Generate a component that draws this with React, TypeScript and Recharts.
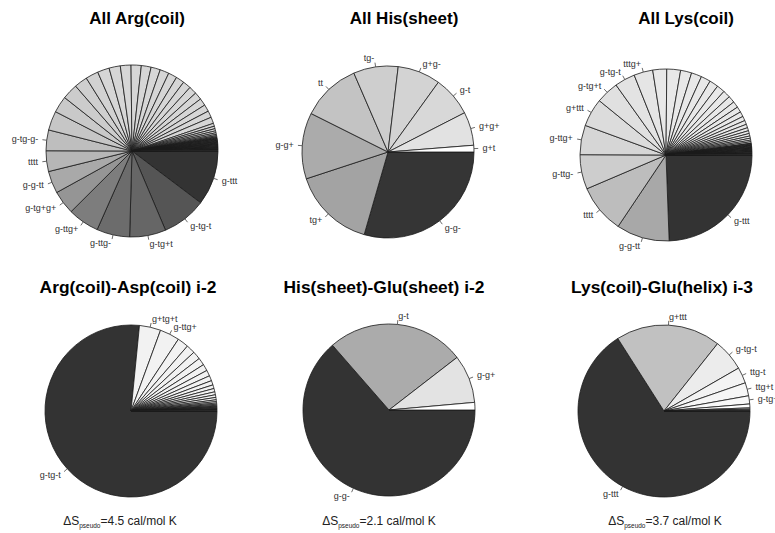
import { Cell, Pie, PieChart } from "recharts";

// slice sizes (degrees of arc, clockwise from 3 o'clock)
const argAllLabels = ["g-ttt", "g-tg-t", "g-tg+t", "g-ttg-", "g-ttg+", "g-tg+g+", "g-g-tt", "tttt", "g-tg-g-"];
const argAllValues = [
  37, 30, 24.5, 22.3, 21.2, 16, 15, 14, 14, 13, 11.2, 10.6, 8.9, 8.6, 8.0, 7.6, 7.2, 6.9, 6.6, 6.3,
  6.1, 5.9, 5.7, 5.5, 5.3, 5.1, 4.9, 4.7, 4.5, 4.3, 2.0, 1.7, 1.5, 1.3, 1.1, 0.9, 0.7, 0.5, 0.4, 0.3,
  0.3, 0.3, 0.3, 0.3, 0.28, 0.28, 0.27, 0.27, 0.26, 0.26, 0.25, 0.25, 0.25, 0.24, 0.24, 0.24, 0.23,
  0.23, 0.23, 0.22, 0.22, 0.22, 0.21, 0.21, 0.21, 0.2, 0.2, 0.2, 0.2, 0.19, 0.19, 0.19, 0.18, 0.18,
  0.18, 0.17,
];
const argAllColors = [
  "#333333", "#555555", "#666666", "#6c6c6c", "#7d7d7d", "#959595", "#a9a9a9", "#b6b6b6", "#bebebe",
  "#c6c6c6", "#c9c9c9", "#cccccc", "#cfcfcf", "#d2d2d2",
];

const hisAllLabels = ["g-g-", "tg+", "g-g+", "tt", "tg-", "g+g-", "g-t", "g+g+", "g+t"];
const hisAllValues = [106, 55.7, 44.7, 40, 30.2, 29, 27, 22.6, 4.5];
const hisAllColors = ["#353535", "#a3a3a3", "#ababab", "#c3c3c3", "#cecece", "#d3d3d3", "#d8d8d8", "#e2e2e2", "#ffffff"];

const lysAllLabels = ["g-ttt", "g-g-tt", "tttt", "g-ttg-", "g-ttg+", "g+ttt", "g-tg+t", "g-tg-t", "tttg+"];
const lysAllValues = [
  87.8, 35.9, 33, 23.3, 19.9, 19, 15.3, 13.8, 12.8, 9.4, 9.3, 7.5, 7, 6.5, 6, 5.5, 5, 4.6, 4.2, 3.8,
  3.4, 3.0, 2.7, 2.4, 2.1, 1.9, 1.7, 1.5, 1.3, 1.1, 1.0, 0.3, 0.3, 0.3, 0.29, 0.28, 0.27, 0.26, 0.26,
  0.25, 0.25, 0.24, 0.24, 0.24, 0.23, 0.23, 0.23, 0.22, 0.22, 0.22, 0.21, 0.21, 0.21, 0.2, 0.2, 0.2,
  0.2, 0.19, 0.19, 0.19, 0.18, 0.18, 0.18, 0.17, 0.17, 0.17,
];
const lysAllColors = ["#333333", "#a8a8a8", "#bdbdbd", "#cdcdcd", "#d6d6d6", "#dcdcdc", "#e0e0e0", "#e3e3e3", "#e5e5e5"];

const argAspLabels = ["g-tg-t", "g+tg+t", "g-ttg+"];
const argAspValues = [
  277, 14.5, 13.4, 7.6, 6.0, 5.5, 5.0, 4.5, 4.0, 3.5, 3.0, 2.5, 2.3, 2.0, 1.8, 1.6, 1.2, 1.0, 0.8, 0.7,
  0.6, 0.5, 0.3, 0.3, 0.3, 0.25, 0.25, 0.2, 0.2, 0.2, 0.15, 0.15, 0.15, 0.1, 0.1, 0.1,
];
const argAspColors = ["#333333"];

const hisGluLabels = ["g-g-", "g-t", "g-g+"];
const hisGluValues = [228.9, 93.4, 32.6, 5.1];
const hisGluColors = ["#333333", "#ababab", "#e3e3e3", "#ffffff"];

const lysGluLabels = ["g-ttt", "g+ttt", "g-tg-t", "ttg-t", "ttg+t", "g-tg+t"];
const lysGluValues = [237.5, 71, 21.6, 10.8, 8.9, 5.5, 2.6, 0.8, 0.5, 0.4, 0.2, 0.2];
const lysGluColors = ["#333333", "#c1c1c1", "#ececec", "#f3f3f3", "#f6f6f6", "#f9f9f9"];

const topTitles = ["All Arg(coil)", "All His(sheet)", "All Lys(coil)"];
const bottomTitles = ["Arg(coil)-Asp(coil) i-2", "His(sheet)-Glu(sheet) i-2", "Lys(coil)-Glu(helix) i-3"];
const entropyValues = ["4.5", "2.1", "3.7"];

const pies = [
  { labels: argAllLabels, values: argAllValues, colors: argAllColors, tail: "#d6d6d6", cx: 127, cy: 146 },
  { labels: hisAllLabels, values: hisAllValues, colors: hisAllColors, tail: "#ffffff", cx: 383, cy: 147 },
  { labels: lysAllLabels, values: lysAllValues, colors: lysAllColors, tail: "#e8e8e8", cx: 661, cy: 150 },
  { labels: argAspLabels, values: argAspValues, colors: argAspColors, tail: "#f2f2f2", cx: 126, cy: 406 },
  { labels: hisGluLabels, values: hisGluValues, colors: hisGluColors, tail: "#ffffff", cx: 384, cy: 405 },
  { labels: lysGluLabels, values: lysGluValues, colors: lysGluColors, tail: "#ffffff", cx: 659, cy: 406 },
];

const font = "'Liberation Sans', Arial, Helvetica, sans-serif";
const RAD = Math.PI / 180;

const makeLabel = (labels: string[]) => (props: any) => {
  const { cx, cy, midAngle, outerRadius, index } = props;
  const text = labels[index];
  if (!text) return null;
  const c = Math.cos(-midAngle * RAD);
  const s = Math.sin(-midAngle * RAD);
  return (
    <g>
      <line
        x1={cx + outerRadius * c}
        y1={cy + outerRadius * s}
        x2={cx + outerRadius * 1.05 * c}
        y2={cy + outerRadius * 1.05 * s}
        stroke="#444"
        strokeWidth={0.8}
      />
      <text
        x={cx + outerRadius * 1.1 * c}
        y={cy + outerRadius * 1.1 * s}
        textAnchor={c < 0 ? "end" : "start"}
        dominantBaseline="central"
        fontSize={9}
        fontFamily={font}
        fill="#333"
      >
        {text}
      </text>
    </g>
  );
};

export default function App() {
  return (
    <div style={{ position: "absolute", left: 0, top: 0, width: 775, height: 533, background: "#fff" }}>
      <PieChart width={775} height={533}>
        {pies.map((p, i) => (
          <Pie
            key={i}
            data={p.values.map((v, j) => ({ name: p.labels[j] ?? "", value: v }))}
            dataKey="value"
            cx={p.cx}
            cy={p.cy}
            innerRadius={0}
            outerRadius={86}
            startAngle={0}
            endAngle={-360}
            stroke="#1a1a1a"
            strokeWidth={0.8}
            labelLine={false}
            label={makeLabel(p.labels)}
            isAnimationActive={false}
          >
            {p.values.map((_, j) => (
              <Cell key={j} fill={p.colors[j] ?? p.tail} />
            ))}
          </Pie>
        ))}
      </PieChart>
      <svg
        width={775}
        height={533}
        style={{ position: "absolute", left: 0, top: 0, pointerEvents: "none" }}
      >
        {topTitles.map((t, i) => (
          <text key={t} x={[137, 404, 686][i]} y={24} textAnchor="middle" fontSize={17} fontWeight="bold" fontFamily={font} fill="#000">
            {t}
          </text>
        ))}
        {bottomTitles.map((t, i) => (
          <text key={t} x={[128, 384, 662][i]} y={293} textAnchor="middle" fontSize={17.4} fontWeight="bold" fontFamily={font} fill="#000">
            {t}
          </text>
        ))}
        {entropyValues.map((v, i) => (
          <text key={i} x={[120, 379, 665][i]} y={525} textAnchor="middle" fontSize={12} fontFamily={font} fill="#222">
            ΔS
            <tspan fontSize={6.5} dy={2.5}>pseudo</tspan>
            <tspan fontSize={12} dy={-2.5}>{`=${v} cal/mol K`}</tspan>
          </text>
        ))}
      </svg>
    </div>
  );
}
